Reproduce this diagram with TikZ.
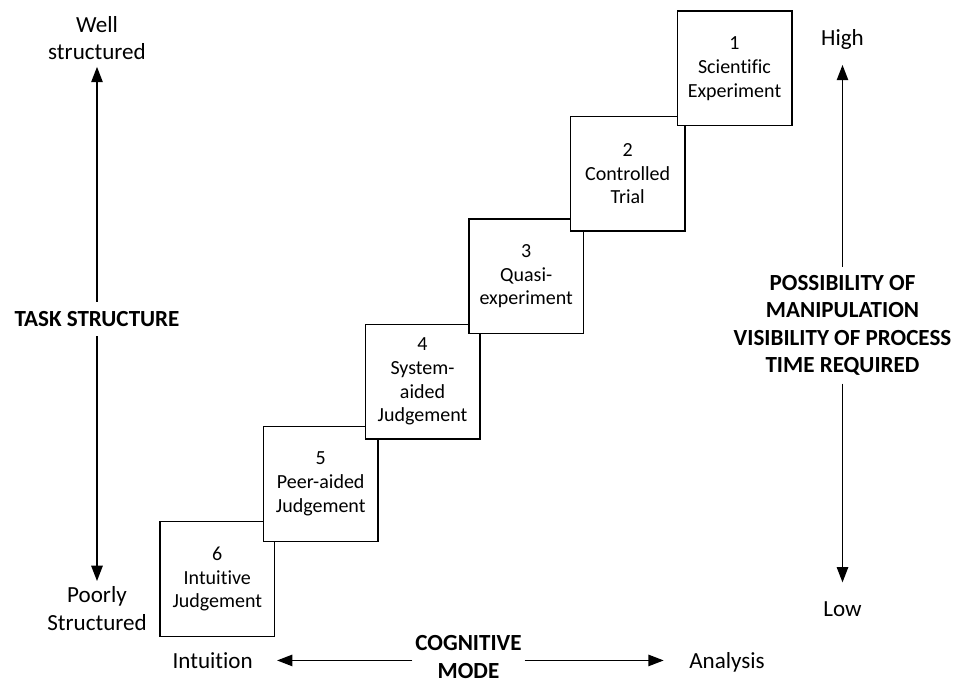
\documentclass[tikz,border=0pt]{standalone}
\usepackage{fontspec}
\setmainfont[Ligatures=NoCommon]{Carlito}
\usetikzlibrary{arrows.meta}
\begin{document}
\begin{tikzpicture}[x=0.75pt,y=-0.75pt,
  stage/.style={draw, fill=white, line width=1.1pt, minimum width=85.9pt,
    minimum height=85.9pt, inner sep=0pt, align=center,
    font=\fontsize{15}{17.8}\selectfont},
  axislbl/.style={align=center, inner sep=0pt, font=\fontsize{17.3}{20.6}\selectfont},
  axistitle/.style={axislbl, font=\fontsize{17.3}{20.6}\selectfont\bfseries},
  axisarrow/.style={line width=1.25pt, -{Triangle[length=11.5pt,width=8.5pt]}}]
\useasboundingbox (0,0) rectangle (958,684);

% staircase of decision modes, lowest first so each higher step overlaps the one below
\node[stage] (s6) at (217.3,579)   {6\\Intuitive\\Judgement};
\node[stage] (s5) at (320.7,484)   {5\\Peer-aided\\Judgement};
\node[stage] (s4) at (422.5,381.6) {4\\System-\\aided\\Judgement};
\node[stage] (s3) at (526.2,276.2) {3\\Quasi-\\experiment};
\node[stage] (s2) at (627.7,173.7) {2\\Controlled\\Trial};
\node[stage] (s1) at (734.5,68.5)  {1\\Scientific\\Experiment};

% vertical axis on the left: task structure
\node[axislbl] (well) at (97,38.2) {Well\\structured};
\node[axistitle, inner sep=7pt, anchor=base] (task) at (97,326.7) {TASK STRUCTURE};
\node[axislbl] (poor) at (97,608.5) {Poorly\\Structured};
\draw[axisarrow, shorten >=4.9pt] (task) -- (well);
\draw[axisarrow, shorten >=4pt] (task) -- (poor);

% vertical axis on the right
\node[axislbl, anchor=base] (high) at (842.5,46) {High};
\node[axistitle, inner ysep=6pt] (factors) at (842.5,325.2)
  {POSSIBILITY OF\\MANIPULATION\\VISIBILITY OF PROCESS\\TIME REQUIRED};
\node[axislbl, anchor=base] (low) at (842.5,616.7) {Low};
\draw[axisarrow, shorten >=11pt] (factors) -- (high);
\draw[axisarrow, shorten >=14.4pt] (factors) -- (low);

% horizontal axis: cognitive mode
\node[axislbl, anchor=base] (intu) at (212.7,668.3) {Intuition};
\node[axislbl, anchor=base] (ana) at (727,668.3) {Analysis};
\node[axistitle, inner xsep=2pt] (mode) at (468.5,656.9) {COGNITIVE\\MODE};
\draw[axisarrow, shorten >=18pt] (mode.west |- intu) -- (intu);
\draw[axisarrow, shorten >=19pt] (mode.east |- intu) -- (intu -| ana.west);
\end{tikzpicture}
\end{document}
